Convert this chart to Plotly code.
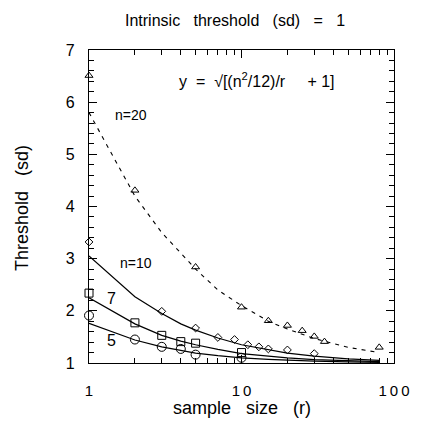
import plotly.graph_objects as go

# ---- data ----
line_r = [1, 2, 3, 4, 5, 7, 10, 15, 20, 30, 50, 80]
line_n20 = [5.8, 4.2, 3.5, 3.1, 2.8, 2.4, 2.1, 1.8, 1.65, 1.47, 1.3, 1.2]
line_n10 = [3.05, 2.27, 1.95, 1.75, 1.63, 1.48, 1.35, 1.25, 1.19, 1.13, 1.08, 1.05]
line_n7 = [2.25, 1.75, 1.53, 1.42, 1.35, 1.26, 1.18, 1.13, 1.1, 1.065, 1.04, 1.025]
line_n5 = [1.76, 1.44, 1.31, 1.24, 1.19, 1.14, 1.1, 1.07, 1.05, 1.035, 1.02, 1.013]

pts20_r = [1, 2, 5, 10, 15, 20, 25, 30, 35, 80]
pts20_y = [6.51, 4.31, 2.84, 2.07, 1.81, 1.72, 1.62, 1.51, 1.41, 1.30]
pts10_r = [1, 3, 5, 7, 9, 11, 13, 15, 20, 30]
pts10_y = [3.32, 1.99, 1.67, 1.49, 1.45, 1.35, 1.31, 1.27, 1.25, 1.18]
pts7_r = [1, 2, 3, 4, 5, 10]
pts7_y = [2.34, 1.77, 1.53, 1.41, 1.38, 1.2]
pts5_r = [1, 2, 3, 4, 5, 10]
pts5_y = [1.91, 1.45, 1.31, 1.27, 1.16, 1.10]

x_tickvals = [1, 10, 100]
x_ticktext = ["1", "1\u20090", "1\u20090\u20090"]
x_minor = [2, 3, 4, 5, 6, 7, 8, 9, 20, 30, 40, 50, 60, 70, 80, 90]

FONT = "Liberation Sans, Arial, Helvetica, sans-serif"
OFF = 8  # page body margin of the browser
W, H = 422 - OFF, 424 - OFF
L, R, T, B = 89 - OFF, 403 - OFF, 50 - OFF, 363 - OFF


def px(x, y):
    return (x - OFF - L) / (R - L), (B - (y - OFF)) / (B - T)


fig = go.Figure()
line_style = dict(color="black", width=1.2)
fig.add_trace(go.Scatter(x=line_r, y=line_n20, mode="lines",
                         line=dict(color="black", width=1.1, dash="4px,5px")))
for ys in (line_n10, line_n7, line_n5):
    fig.add_trace(go.Scatter(x=line_r, y=ys, mode="lines", line=line_style))

mk = dict(color="black", line=dict(color="black", width=1))
fig.add_trace(go.Scatter(x=pts20_r, y=pts20_y, mode="markers", cliponaxis=False,
                         marker=dict(symbol="triangle-up-open", size=7, **mk)))
fig.add_trace(go.Scatter(x=pts10_r, y=pts10_y, mode="markers", cliponaxis=False,
                         marker=dict(symbol="diamond-open", size=6, **mk)))
fig.add_trace(go.Scatter(x=pts7_r, y=pts7_y, mode="markers", cliponaxis=False,
                         marker=dict(symbol="square-open", size=8, **mk)))
fig.add_trace(go.Scatter(x=pts5_r, y=pts5_y, mode="markers", cliponaxis=False,
                         marker=dict(symbol="circle-open", size=9, **mk)))

annots = []


def add_text(text, x, y, size, **kw):
    ax, ay = px(x, y)
    annots.append(dict(text=text, x=ax, y=ay, xref="paper", yref="paper",
                       showarrow=False, font=dict(family=FONT, size=size, color="black"),
                       xanchor="center", yanchor="middle", **kw))


NB = "\u00a0"
S2 = NB * 3
add_text(f"Intrinsic{S2}threshold{S2}(sd){S2}={S2}1", 239, 20, 16)
add_text(f"y{NB}{NB}={NB}{NB}√[(n<sup>2</sup>/12)/r{NB * 5}+{NB}1]", 262, 80, 16)
add_text("n=20", 132, 115, 14)
add_text("n=10", 137, 263, 14)
add_text("7", 112, 298, 16)
add_text("5", 112, 340, 16)
add_text(f"sample{S2}size{S2}(r)", 246, 408, 18)
add_text(f"Threshold{S2}(sd)", 20, 208, 18, textangle=-90)

axis_common = dict(showline=True, linecolor="black", linewidth=1.2, mirror="ticks",
                   ticks="inside", ticklen=8, tickcolor="black", tickwidth=1,
                   showgrid=False, zeroline=False)

fig.update_xaxes(type="log", range=[0, 2], tickmode="array", tickvals=x_tickvals,
                 ticktext=x_ticktext, ticklabelstandoff=14,
                 tickfont=dict(family=FONT, size=15, color="black"),
                 minor=dict(tickmode="array", tickvals=x_minor, ticks="inside",
                            ticklen=5, tickcolor="black", showgrid=False),
                 **axis_common)
fig.update_yaxes(range=[1, 7], dtick=1, tick0=1, ticklabelstandoff=10,
                 tickfont=dict(family=FONT, size=16, color="black"),
                 minor=dict(dtick=0.2, ticks="inside", ticklen=5, tickcolor="black",
                            showgrid=False),
                 **axis_common)

fig.update_layout(width=W, height=H, margin=dict(l=L, r=W - R, t=T, b=H - B),
                  plot_bgcolor="white", paper_bgcolor="white", showlegend=False,
                  annotations=annots)

fig.write_html("out.html")
